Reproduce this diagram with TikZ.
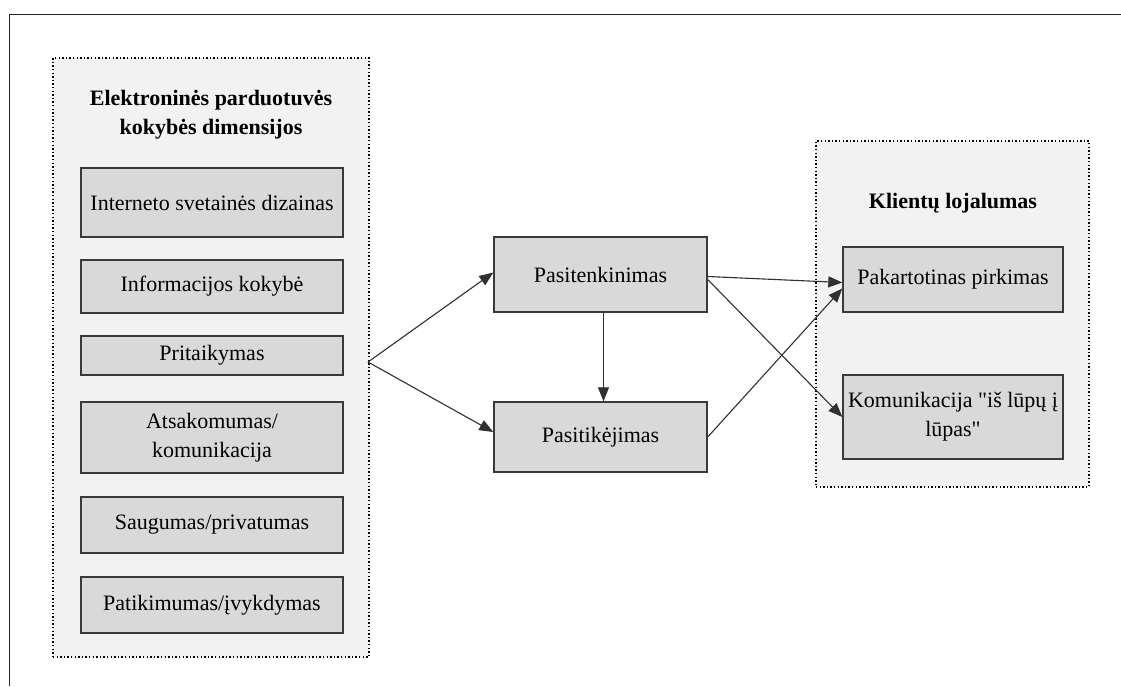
\documentclass[tikz,border=0pt]{standalone}
\usepackage{fontspec}
\setmainfont{Liberation Serif}
\usetikzlibrary{arrows.meta}
\definecolor{panelfill}{HTML}{F2F2F2}
\definecolor{boxfill}{HTML}{D9D9D9}
\definecolor{boxline}{HTML}{3A3A3A}
\definecolor{arrowline}{HTML}{303030}
% straight double quote, set as a glyph so the TeX input mapping leaves it alone
\newcommand\straightquote{\XeTeXglyph\XeTeXcharglyph"22\relax}
\begin{document}
\begin{tikzpicture}[x=1pt,y=-1pt,
  every node/.style={font=\fontsize{22}{29}\selectfont, inner sep=0pt, align=center},
  panel/.style={draw=black, line width=1.1pt, dash pattern=on 1.4pt off 2.2pt, fill=panelfill},
  itembox/.style={draw=boxline, line width=1.4pt, fill=boxfill},
  paneltitle/.style={font=\fontsize{22}{29}\selectfont\bfseries},
  link/.style={draw=arrowline, line width=1.1pt, -{Triangle[length=14pt,width=11pt]}}]
\useasboundingbox (0,0) rectangle (1121,686);

% page frame (top and left edges)
\draw[line width=1.4pt, black!85] (9.5,686) -- (9.5,14.5) -- (1121,14.5);

% left group: quality dimensions
\node[panel, minimum width=316pt, minimum height=599pt] (lpanel) at (211,357.5) {};
\node[paneltitle] (ltitle) at (211,115) {Elektroninės parduotuvės\\kokybės dimensijos};
\node[itembox, minimum width=262pt, minimum height=69pt] (b1) at (212,202.5) {Interneto svetainės dizainas};
\node[itembox, minimum width=262pt, minimum height=53pt] (b2) at (212,286.5) {Informacijos kokybė};
\node[itembox, minimum width=262pt, minimum height=39pt] (b3) at (212,355.5) {Pritaikymas};
\node[itembox, minimum width=262pt, minimum height=71pt] (b4) at (212,437.5) {Atsakomumas/\\komunikacija};
\node[itembox, minimum width=262pt, minimum height=56pt] (b5) at (212,525) {Saugumas/privatumas};
\node[itembox, minimum width=262pt, minimum height=56pt] (b6) at (212,605) {Patikimumas/įvykdymas};

% middle: mediating constructs
\node[itembox, minimum width=213pt, minimum height=75pt] (sat) at (600.5,274.5) {Pasitenkinimas};
\node[itembox, minimum width=213pt, minimum height=70pt] (trust) at (600.5,437) {Pasitikėjimas};

% right group: loyalty
\node[panel, minimum width=273pt, minimum height=346pt] (rpanel) at (952.5,314) {};
\node[paneltitle] (rtitle) at (953,203) {Klientų lojalumas};
\node[itembox, minimum width=220pt, minimum height=65pt] (rep) at (953,279.5) {Pakartotinas pirkimas};
\node[itembox, minimum width=220pt, minimum height=84pt] (wom) at (953,417)
  {Komunikacija \straightquote iš lūpų į\\lūpas\straightquote};

% connectors
\coordinate (src) at (368,362);
\draw[link] (src) -- ([yshift=2pt]sat.west);
\draw[link] (src) -- ([yshift=5pt]trust.west);
\draw[link] ([xshift=3pt]sat.south) -- ([xshift=3pt]trust.north);
\draw[link] ([yshift=-2pt]sat.east) -- ([yshift=-3pt]rep.west);
\draw[link] ([yshift=-5pt]sat.east) -- (wom.west);
\draw[link] (trust.east) -- ([yshift=-9pt]rep.west);
\end{tikzpicture}
\end{document}
